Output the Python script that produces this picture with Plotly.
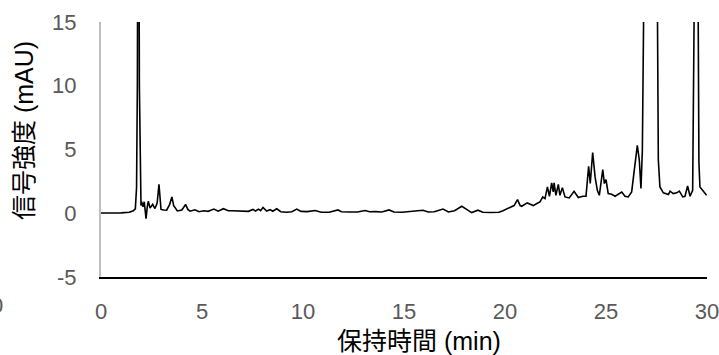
import plotly.graph_objects as go

# Retention time (min) and signal (mAU)
time_min = [
    0.0, 0.5, 1.0, 1.4, 1.6, 1.7, 1.76, 1.8, 1.85, 1.9, 1.94, 1.98, 2.01, 2.08, 2.14,
    2.23, 2.29, 2.34, 2.43, 2.5, 2.56, 2.67, 2.78, 2.87, 2.92, 2.97, 3.1, 3.25, 3.4,
    3.51, 3.6, 3.78, 4.0, 4.19, 4.3, 4.41, 4.65, 4.85, 5.1, 5.3, 5.59, 5.8, 6.06, 6.3,
    6.5, 6.8, 7.0, 7.3, 7.52, 7.65, 7.8, 7.9, 8.02, 8.2, 8.37, 8.5, 8.7, 8.9, 9.19,
    9.45, 9.69, 9.9, 10.2, 10.6, 10.9, 11.3, 11.73, 11.9, 12.3, 12.7, 13.07, 13.3,
    13.6, 13.9, 14.26, 14.5, 14.9, 15.2, 15.5, 15.94, 16.2, 16.5, 16.93, 17.2, 17.5,
    17.86, 18.1, 18.35, 18.66, 18.9, 19.3, 19.7, 19.9, 20.15, 20.33, 20.45, 20.62,
    20.75, 20.83, 21.1, 21.25, 21.4, 21.6, 21.73, 21.87, 21.98, 22.1, 22.2, 22.31,
    22.39, 22.43, 22.52, 22.64, 22.72, 22.84, 22.97, 23.18, 23.42, 23.63, 23.85,
    24.01, 24.14, 24.22, 24.34, 24.46, 24.57, 24.67, 24.84, 24.92, 25.0, 25.11, 25.28,
    25.45, 25.61, 25.78, 25.94, 26.1, 26.27, 26.44, 26.55, 26.65, 26.73, 26.8, 26.86,
    26.95, 27.2, 27.45, 27.55, 27.59, 27.67, 27.84, 28.09, 28.17, 28.33, 28.5, 28.63,
    28.8, 28.91, 29.04, 29.16, 29.29, 29.36, 29.42, 29.49, 29.55, 29.6, 29.65, 29.78,
    29.98,
]
signal_mau = [
    0.02, 0.02, 0.03, 0.08, 0.2, 0.35, 2.0, 10, 40, 10, 2.0, 0.6, 0.9, 0.5, 0.9,
    -0.42, 0.5, 0.94, 0.4, 0.6, 0.7, 0.37, 0.8, 2.27, 1.0, 0.3, 0.25, 0.24, 0.7,
    1.28, 0.6, 0.18, 0.25, 0.68, 0.3, 0.16, 0.27, 0.12, 0.2, 0.15, 0.33, 0.16, 0.36, 0.2,
    0.2, 0.2, 0.16, 0.15, 0.3, 0.18, 0.32, 0.2, 0.45, 0.18, 0.28, 0.16, 0.35, 0.12, 0.08,
    0.12, 0.33, 0.15, 0.13, 0.22, 0.08, 0.08, 0.26, 0.12, 0.1, 0.1, 0.22, 0.12,
    0.13, 0.1, 0.26, 0.1, 0.08, 0.12, 0.14, 0.24, 0.1, 0.12, 0.33, 0.1, 0.2,
    0.55, 0.3, 0.05, 0.24, 0.08, 0.06, 0.08, 0.2, 0.4, 0.5, 0.6, 1.07,
    0.6, 0.55, 0.81, 0.7, 0.6, 0.78, 0.89, 1.28, 1.15, 2.07, 1.33, 2.38,
    1.67, 2.38, 1.41, 2.27, 1.41, 2.01, 1.28, 1.2, 1.72, 1.23, 1.33,
    1.33, 3.69, 2.33, 4.76, 2.85, 1.8, 1.41, 3.43, 2.33, 2.64, 1.54, 1.49,
    1.33, 1.5, 1.67, 1.33, 1.28, 1.67, 4.16, 5.33, 4.16, 1.94, 4.9, 15,
    50, 120, 50, 15, 4.2, 2.06, 1.6, 1.47, 1.73, 1.54, 1.6, 1.73,
    1.28, 1.33, 2.14, 1.33, 1.8, 15, 40, 50, 20, 4, 2.06, 1.8,
    1.41,
]

x_ticks = [0, 5, 10, 15, 20, 25, 30]
y_ticks = [-5, 0, 5, 10, 15]
x_title = "保持時間 (min)"
y_title = "信号強度 (mAU)"

LATIN = "Liberation Sans, Arial, Noto Sans CJK JP, sans-serif"
CJK = "Liberation Sans, Noto Sans CJK JP, sans-serif"

fig = go.Figure()
fig.add_trace(go.Scatter(
    x=time_min, y=signal_mau, mode="lines",
    line=dict(color="#000000", width=1.6),
    showlegend=False, hoverinfo="skip",
))

fig.update_layout(
    width=719, height=355,
    margin=dict(l=101, r=12, t=22, b=78, autoexpand=False),
    paper_bgcolor="white", plot_bgcolor="white",
    font=dict(family=LATIN, size=22, color="#595959"),
    showlegend=False,
)
fig.update_xaxes(
    range=[0, 30], tickmode="array", tickvals=x_ticks,
    ticktext=[str(v) for v in x_ticks],
    showgrid=False, zeroline=False, automargin=False,
    showline=True, linecolor="#000000", linewidth=2,
    ticks="", ticklabelstandoff=14, ticklabeloverflow="allow",
    tickfont=dict(family=LATIN, size=22, color="#595959"),
)
fig.update_yaxes(
    range=[-5, 15], tickmode="array", tickvals=y_ticks,
    ticktext=[str(v) for v in y_ticks],
    showgrid=False, zeroline=False, automargin=False,
    showline=True, linecolor="#bfbfbf", linewidth=2,
    ticks="", ticklabelstandoff=18, ticklabeloverflow="allow",
    tickfont=dict(family=LATIN, size=22, color="#595959"),
)

fig.add_annotation(
    text=y_title, xref="paper", yref="paper",
    x=-0.127, y=0.5725, xanchor="center", yanchor="middle",
    textangle=-90, showarrow=False,
    font=dict(family=CJK, size=25, color="#000000"),
)
fig.add_annotation(
    text=x_title, xref="paper", yref="paper",
    x=0.525, y=-0.251, xanchor="center", yanchor="middle",
    showarrow=False,
    font=dict(family=CJK, size=25, color="#000000"),
)
# partially visible label cut at the left edge of the image
fig.add_annotation(
    text="0", xref="paper", yref="paper",
    x=-0.1716, y=-0.11, xanchor="center", yanchor="middle",
    showarrow=False,
    font=dict(family=LATIN, size=22, color="#595959"),
)

fig.write_html(
    "out.html",
    config={"displayModeBar": False},
    post_script="document.body.style.margin='0';document.body.style.padding='0';document.body.style.overflow='hidden';",
)
